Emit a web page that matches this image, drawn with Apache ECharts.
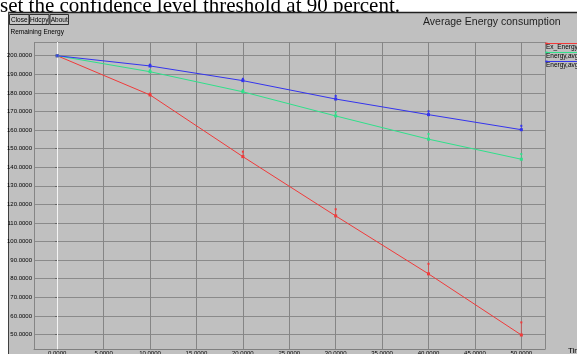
<!DOCTYPE html>
<html>
<head>
<meta charset="utf-8">
<script src="https://cdn.jsdelivr.net/npm/echarts@6/dist/echarts.min.js"></script>
<style>
  html, body { margin: 0; padding: 0; background: #fff; }
  #chart { width: 577px; height: 354px; }
</style>
</head>
<body>
<div id="chart"></div>
<script>
// values
const times = [0, 10, 20, 30, 40, 50];
const exEnergy = [200, 178.9, 145.7, 113.8, 82.6, 49.7];
const exEnergyUpper = [200, 179.6, 148.4, 117.4, 88.0, 56.5];
const energyGreen = [200, 191.4, 180.6, 167.6, 155.1, 144.3];
const energyGreenUpper = [200, 192.2, 181.5, 169.6, 157.9, 147.1];
const energyBlue = [200, 194.5, 186.6, 176.7, 168.3, 160.2];
const energyBlueUpper = [200, 195.2, 187.6, 178.4, 170.1, 162.3];
const legendNames = ['Ex_Energy,avg', 'Energy,avg', 'Energy,avg'];
const buttonNames = ['Close', 'Hdcpy', 'About'];

const RED = '#f03a3a';
const GREEN = '#2fe08a';
const BLUE = '#3434ee';
const FONT = 'Liberation Sans';

function lineSeries(vals, color) {
  return {
    type: 'line',
    data: times.map((t, i) => [t, vals[i]]),
    symbol: 'rect',
    symbolSize: 3,
    lineStyle: { color, width: 1 },
    itemStyle: { color },
    z: 3,
  };
}

function errSeries(vals, upper, color) {
  return {
    type: 'custom',
    data: times.map((t, i) => [t, vals[i], upper[i]]),
    renderItem(params, api) {
      const p0 = api.coord([api.value(0), api.value(1)]);
      const p1 = api.coord([api.value(0), api.value(2)]);
      return {
        type: 'group',
        children: [
          { type: 'line', shape: { x1: p0[0], y1: p0[1], x2: p1[0], y2: p1[1] }, style: { stroke: color, lineWidth: 1, opacity: 0.6 } },
          { type: 'rect', shape: { x: p1[0] - 1, y: p1[1] - 1, width: 2, height: 2 }, style: { fill: color } },
        ],
      };
    },
    z: 4,
  };
}

const colors = [RED, GREEN, BLUE];
const graphics = [
  // top of the document page, clipped by the window
  { type: 'text', z: -12, style: { text: 'set the confidence level threshold at 90 percent.', x: 0, y: 6, font: '21px "Liberation Serif"', fill: '#000', verticalAlign: 'middle' } },
  { type: 'rect', z: -10, shape: { x: 8, y: 12, width: 569, height: 342 }, style: { fill: '#c0c0c0' } },
  { type: 'line', z: -9, shape: { x1: 8, y1: 12.5, x2: 577, y2: 12.5 }, style: { stroke: '#202020', lineWidth: 1.5 } },
  { type: 'line', z: -9, shape: { x1: 8.5, y1: 12, x2: 8.5, y2: 354 }, style: { stroke: '#404040', lineWidth: 1 } },
  { type: 'text', z: 1, style: { text: 'Remaining Energy', x: 10.5, y: 32, font: '6.5px ' + FONT, fill: '#000', verticalAlign: 'middle' } },
];

const btnX = [9.5, 29.5, 50];
const btnW = [19.5, 19.5, 18.5];
buttonNames.forEach((name, i) => {
  graphics.push({ type: 'rect', z: 1, shape: { x: btnX[i], y: 14.5, width: btnW[i], height: 10 }, style: { fill: '#c8c8c8', stroke: '#303030', lineWidth: 1 } });
  graphics.push({ type: 'text', z: 2, style: { text: name, x: btnX[i] + btnW[i] / 2, y: 19.8, font: '6.5px ' + FONT, fill: '#000', align: 'center', verticalAlign: 'middle' } });
});

legendNames.forEach((name, i) => {
  const y = 43.5 + i * 9;
  graphics.push({ type: 'line', z: 1, shape: { x1: 545.5, y1: y, x2: 577, y2: y }, style: { stroke: colors[i], lineWidth: 1 } });
  graphics.push({ type: 'rect', z: 1, shape: { x: 545.5, y: y - 1, width: 2, height: 2 }, style: { fill: colors[i] } });
  graphics.push({ type: 'text', z: 1, style: { text: name, x: 546, y: y + 4, font: '6.5px ' + FONT, fill: '#000', verticalAlign: 'middle' } });
});

const chart = echarts.init(document.getElementById('chart'), null, { renderer: 'canvas' });
chart.setOption({
  backgroundColor: '#fff',
  animation: false,
  title: {
    text: 'Average Energy consumption',
    left: 423, top: 17, padding: 0,
    textStyle: { fontFamily: FONT, fontSize: 10.5, fontWeight: 'normal', color: '#1e1e1e' },
  },
  grid: { left: 34, top: 42, right: 32, bottom: 4.7, show: false, containLabel: false, outerBoundsMode: 'none' },
  xAxis: {
    type: 'value',
    min: -2.5, max: 52.55,
    minInterval: 5, maxInterval: 5, splitNumber: 11,
    name: 'Time', nameLocation: 'end', nameGap: 23,
    nameTextStyle: { fontFamily: FONT, fontSize: 8, color: '#000', align: 'left', verticalAlign: 'top', padding: [-3, 0, 0, 0] },
    axisLine: { show: true, lineStyle: { color: '#808080', width: 1 } },
    axisTick: { show: false },
    axisLabel: { showMinLabel: false, showMaxLabel: false, margin: 1, fontFamily: FONT, fontSize: 6, color: '#000', formatter: v => v.toFixed(4) },
    splitLine: { show: true, lineStyle: { color: '#858585', width: 1 } },
  },
  yAxis: {
    type: 'value',
    min: 42, max: 207.4,
    minInterval: 10, maxInterval: 10, splitNumber: 16,
    axisLine: { show: true, lineStyle: { color: '#808080', width: 1 } },
    axisTick: { show: true, length: 2, lineStyle: { color: '#606060' } },
    axisLabel: { showMinLabel: false, showMaxLabel: false, margin: 2, fontFamily: FONT, fontSize: 6, color: '#000', formatter: v => v.toFixed(4) },
    splitLine: { show: true, lineStyle: { color: '#8a8a8a', width: 1 } },
  },
  graphic: graphics,
  series: [
    Object.assign(lineSeries(exEnergy, RED), {
      markLine: {
        silent: true, symbol: 'none', label: { show: false },
        lineStyle: { color: '#f4f4f4', type: 'solid', width: 1 },
        data: [{ xAxis: 0 }],
        z: 1,
      },
    }),
    lineSeries(energyGreen, GREEN),
    lineSeries(energyBlue, BLUE),
    errSeries(exEnergy, exEnergyUpper, RED),
    errSeries(energyGreen, energyGreenUpper, GREEN),
    errSeries(energyBlue, energyBlueUpper, BLUE),
  ],
});
</script>
</body>
</html>
